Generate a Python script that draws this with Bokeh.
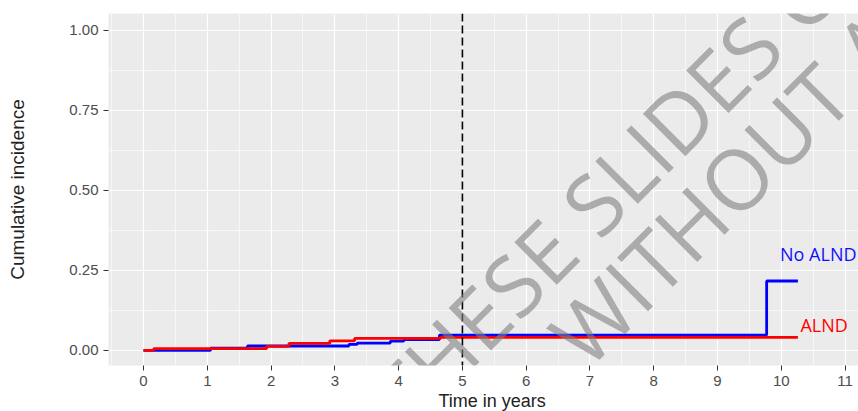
import math
from bokeh.plotting import figure
from bokeh.models import FixedTicker, Span, Label, Title
from bokeh.core.properties import value
from bokeh.embed import file_html
from bokeh.resources import INLINE

# ---- data ----
blue_name = "No ALND"
blue_time = [0.0, 1.05, 1.63, 3.22, 3.35, 3.87, 4.08, 4.64, 9.77, 10.26]
blue_cuminc = [0.0, 0.007, 0.014, 0.019, 0.023, 0.029, 0.034, 0.048, 0.217, 0.217]

red_name = "ALND"
red_time = [0.0, 0.16, 1.93, 2.28, 2.92, 3.31, 4.66, 10.26]
red_cuminc = [0.0, 0.006, 0.013, 0.022, 0.030, 0.038, 0.041, 0.041]

landmark_year = 5

x_ticks = [0, 1, 2, 3, 4, 5, 6, 7, 8, 9, 10, 11]
x_minor = [-0.5, 0.5, 1.5, 2.5, 3.5, 4.5, 5.5, 6.5, 7.5, 8.5, 9.5, 10.5, 11.5]
y_ticks = [0.0, 0.25, 0.5, 0.75, 1.0]
y_tick_labels = ["0.00", "0.25", "0.50", "0.75", "1.00"]
y_minor = [0.125, 0.375, 0.625, 0.875]

x_title = "Time in years"
y_title = "Cumulative incidence"
watermark_1 = "THESE SLIDES C"
watermark_2 = "WITHOUT A"

# ---- figure ----
p = figure(width=858, height=411, x_range=(-0.549, 11.21), y_range=(-0.047, 1.053),
           output_backend="svg", toolbar_location=None,
           min_border_left=108, min_border_right=0, min_border_top=13, min_border_bottom=46)
p.background_fill_color = "#EBEBEB"
p.border_fill_color = "white"
p.outline_line_color = None

xt = FixedTicker(ticks=x_ticks, minor_ticks=x_minor)
yt = FixedTicker(ticks=y_ticks, minor_ticks=y_minor)
p.xaxis.ticker = xt
p.yaxis.ticker = yt
p.xgrid.ticker = xt
p.ygrid.ticker = yt
p.yaxis.major_label_overrides = {t: s for t, s in zip(y_ticks, y_tick_labels)}

for g in (p.xgrid, p.ygrid):
    g.grid_line_color = "white"
    g.grid_line_width = 1.2
    g.minor_grid_line_color = "white"
    g.minor_grid_line_width = 0.6

for ax in (p.xaxis, p.yaxis):
    ax.axis_line_color = None
    ax.major_tick_line_color = "#333333"
    ax.major_tick_line_width = 1
    ax.major_tick_in = 0
    ax.major_tick_out = 5
    ax.minor_tick_line_color = None
    ax.major_label_text_font = "Liberation Sans"
    ax.major_label_text_font_size = "15px"
    ax.major_label_text_color = "#4D4D4D"

p.xaxis.major_label_standoff = 5
p.yaxis.major_label_standoff = 5
p.yaxis.axis_label = y_title
p.yaxis.axis_label_text_font = "Liberation Sans"
p.yaxis.axis_label_text_font_size = "19px"
p.yaxis.axis_label_text_font_style = "normal"
p.yaxis.axis_label_text_color = "#222222"
p.yaxis.axis_label_standoff = 38

# x-axis title, shifted so it is centred on the full (cropped) panel
p.add_layout(Title(text=x_title, align="left", offset=330, standoff=0,
                   text_font="Liberation Sans", text_font_size="18px",
                   text_font_style="normal", text_color="#222222"), "below")

# ---- curves ----
p.step(blue_time, blue_cuminc, mode="after", line_color="#0000FF", line_width=2.8)
p.step(red_time, red_cuminc, mode="after", line_color="#FF0000", line_width=2.8)

p.add_layout(Span(location=landmark_year, dimension="height", line_color="black",
                  line_width=1.6, line_dash="8 4"))

p.text(x=[blue_time[-1] - 0.28], y=[blue_cuminc[-1] + 0.086], text=[blue_name],
       text_color="#1010FF", text_font=value("Open Sans"), text_font_size="18px",
       text_baseline="alphabetic", text_align="left")
p.text(x=[red_time[-1] + 0.04], y=[red_cuminc[-1] + 0.04], text=[red_name],
       text_color="#FF0000", text_font=value("Open Sans"), text_font_size="18px",
       text_baseline="alphabetic", text_align="left")

# watermark
for (wx, wy), txt in (((3.80, -0.185), watermark_1), ((6.60, 0.005), watermark_2)):
    p.add_layout(Label(x=wx, y=wy, text=txt, angle=math.pi / 4, text_align="left",
                       text_baseline="middle", text_font="Open Sans",
                       text_font_size="84px", text_color="#808080", text_alpha=0.6))

open("out.html", "w").write(file_html(p, INLINE))
